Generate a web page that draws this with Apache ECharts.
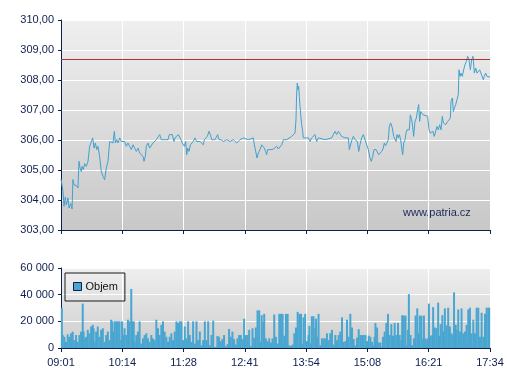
<!DOCTYPE html>
<html><head><meta charset="utf-8">
<script src="https://cdn.jsdelivr.net/npm/echarts@6/dist/echarts.min.js"></script>
<style>html,body{margin:0;padding:0;background:#fff}#c{width:507px;height:380px}</style>
</head><body><div id="c"></div><script>
const timeLabels = ['09:01','10:14','11:28','12:41','13:54','15:08','16:21','17:34'];
const sessionMinutes = 513;
const refLevel = 308.7;
const watermark = 'www.patria.cz';
const legendName = 'Objem';

// [minutes since 09:01, price]
const price = [
[0,304.70],[2.4,304.29],[3.6,303.79],[5.2,304.10],[6.4,303.84],[8.4,304.07],[9.6,303.73],[11.6,303.88],[13.2,303.70],[14.3,304.68],[15.5,304.51],[18.3,304.48],[20.3,304.40],[21.5,305.29],[22.7,305.07],[24.3,304.95],[25.1,305.12],[26.7,305.01],[28.3,305.21],[30.3,305.12],[32.3,305.29],[34.3,305.79],[36.3,305.79],[37.9,306.07],[39.5,305.73],[41.1,305.90],[42.7,305.68],[44.2,305.79],[46.2,305.45],[48.2,304.95],[50.2,304.79],[52.2,304.68],[54.2,305.07],[56.2,305.29],[58.2,305.95],[60.2,306.01],[62.2,305.90],[63.8,306.29],[65.0,305.90],[66.6,306.01],[68.2,305.90],[70.2,306.07],[72.1,305.95],[74.1,305.90],[76.1,305.95],[78.1,305.79],[80.1,305.90],[82.1,305.79],[84.1,305.68],[86.1,305.84],[88.1,305.90],[90.1,305.62],[92.1,305.73],[94.1,305.57],[96.1,305.62],[98.1,305.45],[99.3,305.29],[100.8,305.45],[102.0,305.79],[104.0,305.90],[106.0,305.73],[108.0,305.79],[110.0,305.90],[112.0,305.95],[114.0,306.01],[116.0,306.07],[118.0,306.18],[120.0,306.01],[122.0,305.95],[124.0,306.01],[126.0,305.95],[128.0,306.01],
[129.5,306.18],[131.5,306.12],[133.1,306.18],[135.1,305.95],[136.3,306.07],[138.3,306.01],[140.3,306.18],[142.3,306.18],[143.5,306.01],[145.1,305.90],[146.3,305.95],[147.5,305.79],[149.1,305.95],[150.3,305.51],[151.5,305.73],[153.1,305.62],[154.7,305.84],[156.2,305.90],[158.2,305.95],[160.2,306.07],[162.2,305.95],[164.2,306.01],[166.2,305.95],[168.2,306.01],[170.2,305.84],[171.4,306.01],[173.0,306.07],[175.0,306.12],[177.0,306.29],[178.6,306.18],[180.2,306.01],[184.1,306.01],[186.1,306.01],[187.3,306.18],[188.9,306.01],[191.3,306.01],[192.9,306.07],[194.5,305.95],[196.1,305.90],[198.1,306.01],[200.1,306.01],[202.1,305.95],[204.1,305.90],[206.1,306.01],[208.1,305.95],[210.1,305.90],[212.0,305.95],[214.0,306.01],[218.0,306.07],[220.0,306.01],[224.0,306.01],[226.0,306.07],[230.0,306.07],[231.2,305.84],[232.8,305.62],[234.4,305.40],[236.0,305.57],[238.0,305.68],[240.0,305.84],[242.0,305.90],[243.1,305.73],[244.7,305.62],[245.9,305.51],[247.1,305.68],[248.7,305.62],[251.1,305.68],[253.9,305.70],[255.9,305.68],
[257.9,305.79],[259.9,305.70],[261.9,305.70],[263.9,305.84],[265.9,306.01],[267.9,306.07],[269.9,306.01],[271.8,306.07],[275.8,306.12],[279.8,306.23],[281.0,306.68],[281.8,307.57],[282.6,307.90],[283.4,307.68],[284.2,307.79],[285.0,307.45],[285.8,307.12],[286.6,306.84],[287.8,306.51],[289.0,306.29],[289.8,306.07],[291.0,306.01],[292.2,306.07],[293.8,306.01],[295.8,306.07],[297.8,305.95],[299.7,306.07],[301.7,306.01],[303.7,306.18],[305.7,305.95],[307.7,306.07],[309.7,306.01],[315.7,306.01],[317.7,306.07],[323.7,306.07],[325.7,306.12],[327.6,306.29],[329.6,306.18],[331.6,306.29],[333.6,306.23],[335.6,306.12],[337.6,306.12],[339.6,306.07],[341.6,306.01],[343.6,306.07],[344.8,305.68],[346.8,305.68],[348.0,306.01],[349.6,306.12],[351.6,306.01],[352.8,306.07],[354.4,305.95],[356.0,305.62],[357.5,305.84],[359.5,306.07],[361.5,306.18],[363.5,306.01],[365.5,305.95],[367.5,305.68],[369.5,305.40],[371.1,305.29],[372.7,305.45],[374.3,305.68],[376.7,305.68],[378.3,305.62],[379.9,305.51],[381.5,305.57],
[383.5,305.62],[385.4,305.73],[386.6,305.90],[388.2,305.81],[390.2,305.79],[391.4,306.01],[392.6,306.45],[394.2,306.57],[396.2,306.40],[397.8,306.12],[399.4,306.18],[400.6,305.95],[401.8,306.18],[403.4,306.07],[404.6,306.18],[406.2,306.01],[407.4,305.73],[408.6,305.51],[409.8,305.90],[411.4,306.01],[412.6,306.23],[413.7,306.34],[415.3,306.40],[416.5,306.34],[417.7,306.84],[419.3,306.68],[420.5,306.45],[421.7,306.12],[423.3,306.62],[424.9,306.73],[426.5,307.01],[427.7,307.18],[428.9,306.62],[430.1,306.95],[431.3,306.95],[432.9,306.84],[434.5,306.79],[438.5,306.79],[440.1,306.34],[441.6,306.23],[443.2,306.23],[444.8,306.29],[446.4,306.12],[448.0,306.12],[449.6,306.45],[451.2,306.34],[452.8,306.51],[454.4,306.34],[456.0,306.79],[457.2,306.57],[458.4,306.51],[460.0,306.51],[462.4,306.62],[464.0,306.68],[465.6,306.73],[466.4,307.29],[468.0,307.40],[469.2,306.95],[470.4,307.07],[472.0,307.18],[473.5,307.34],[475.1,307.51],[475.9,308.34],[477.1,308.12],[478.3,308.23],[479.9,308.12],[481.5,308.34],[483.1,308.51],[484.7,308.62],[486.3,308.79],[487.9,308.68],[489.5,308.34],[491.1,308.68],[492.7,308.79],[494.3,308.23],[495.9,308.40],[497.5,308.23],[499.0,308.29],[500.6,308.34],[502.2,308.23],[503.8,308.29],[505.0,308.01],[506.2,308.12],[507.8,308.23],[509.4,308.12],[511.0,308.10],[513.0,308.10]
];

// [minutes since 09:01, volume]
const volume = [
[1,30200],[2,9700],[4,8400],[6,4600],[8,10200],[10,8400],[12,11000],[14,12300],[16,5900],[18,9700],[20,4600],[22,9700],[24,12300],[26,33300],[27,12300],[28,7200],[30,8400],[32,13600],[34,11000],[36,16100],[38,17400],[39,14800],[40,4600],[42,12300],[44,16100],[46,8400],[48,13600],[50,14800],[52,4600],[54,9700],[56,12300],[58,5900],[60,21200],[61,20000],[63,12300],[64,20000],[66,20000],[68,20000],[70,20000],[72,5900],[73,20000],[75,9700],[76,14800],[78,9700],[80,21200],[81,14800],[82,20000],[84,44300],[85,20000],[87,20000],[88,4600],[90,9700],[92,12300],[94,20000],[96,3300],[98,7200],[100,9700],[102,11000],[104,7200],[106,4600],[108,9700],[110,7200],[112,5900],[114,21200],[116,14800],[118,9700],[120,17400],[122,20000],[124,12300],[126,8400],[128,4600],[130,8400],[132,11000],[134,5900],[136,12300],[138,20000],[140,18700],[142,20000],[144,20000],[146,5900],[148,16100],[150,7200],[152,20000],[154,9700],[156,4600],[158,20000],[160,3300],[162,20000],[164,5900],[166,12300],[168,2000],
[170,5900],[172,20000],[174,5900],[176,20000],[178,2000],[180,9700],[182,20500],[184,800],[186,800],[187,9000],[189,8400],[191,5100],[193,6700],[195,9700],[197,1300],[199,2800],[201,14300],[203,8400],[205,12300],[207,6700],[209,2600],[211,7200],[213,9700],[215,9700],[217,6700],[219,22000],[221,9700],[223,9700],[225,13600],[227,1300],[229,14800],[231,7700],[233,15400],[235,28200],[237,28200],[239,4600],[240,24600],[242,19500],[243,25600],[245,7200],[247,5100],[249,7200],[251,4100],[253,7200],[255,25100],[257,8400],[259,3300],[261,25600],[263,25600],[265,25600],[267,9200],[269,25600],[271,25600],[273,2000],[275,1500],[277,2600],[279,11000],[281,15400],[283,27100],[285,25600],[287,25600],[288,3300],[290,23000],[292,25600],[294,5100],[296,9700],[297,16600],[299,3300],[300,23800],[302,23800],[304,14800],[305,22000],[306,8400],[308,25600],[310,2000],[312,7200],[314,7200],[316,7200],[318,11000],[320,5900],[322,11000],[324,13600],[326,2600],[328,9700],[330,5900],[332,9700],[334,12300],[336,23000],[338,4600],[340,5100],
[342,21200],[344,8400],[346,25600],[348,15400],[350,6700],[352,2000],[354,7700],[356,14100],[358,9700],[360,9700],[362,9700],[364,9700],[366,5100],[368,9200],[370,8400],[372,4600],[374,2000],[375,8400],[376,18700],[378,15400],[380,4100],[382,4100],[383,800],[385,8400],[387,12300],[389,18700],[391,25600],[393,9700],[395,17900],[397,9200],[399,18700],[401,9700],[403,18700],[405,9700],[407,5900],[408,24600],[410,24300],[412,24300],[414,2000],[415,13600],[416,40400],[418,9700],[419,2000],[421,2000],[422,7200],[424,24300],[426,29700],[427,11000],[429,24300],[431,24300],[433,7200],[434,24300],[436,7200],[438,5900],[439,7200],[440,33300],[442,9200],[444,9700],[445,30700],[447,15400],[449,14800],[451,34000],[453,9200],[454,17900],[456,24600],[458,12300],[459,29700],[461,16900],[463,30200],[465,16100],[467,11000],[469,9700],[470,41700],[472,17400],[473,13600],[475,28900],[477,12300],[479,29700],[481,11000],[483,12300],[485,17400],[487,28900],[489,30200],[491,11000],[493,21200],[495,11000],[497,30200],[499,30200],[501,8400],[503,26400],[505,8400],[507,25600],[509,30200],[511,30200],[512,30200]
];

const navy = '#0c1f4d';
const txt = '#0f1f4f';
const font = "'Liberation Sans', Arial, sans-serif";
const step = sessionMinutes / 7;
const bg = {type:'linear', x:0, y:0, x2:0, y2:1, colorStops:[{offset:0,color:'#efefef'},{offset:1,color:'#c8c8c8'}]};
const bg2 = {type:'linear', x:0, y:0, x2:0, y2:1, colorStops:[{offset:0,color:'#efefef'},{offset:1,color:'#cdcdcd'}]};

function xAxis(idx, showLabel) {
  return {
    type:'value', gridIndex:idx, min:0, max:sessionMinutes, interval:step,
    axisLine:{show:true, onZero:false, lineStyle:{color:navy, width:1}},
    axisTick:{show:true, length:4, lineStyle:{color:navy}},
    splitLine:{show:true, lineStyle:{color:'#ffffff', width:1}},
    axisLabel:{show:showLabel, margin:9, color:txt, fontFamily:font, fontSize:11,
      formatter: v => timeLabels[Math.round(v/step)] || ''},
  };
}

const chart = echarts.init(document.getElementById('c'), null, {renderer:'canvas'});
chart.setOption({
  backgroundColor:'#ffffff',
  animation:false,
  textStyle:{fontFamily:font},
  grid:[
    {left:61, right:17, top:20, height:210, show:true, backgroundColor:bg, borderWidth:0},
    {left:61, right:17, top:268, height:80, show:true, backgroundColor:bg2, borderWidth:0}
  ],
  xAxis:[xAxis(0,false), xAxis(1,true)],
  yAxis:[
    {type:'value', gridIndex:0, min:303, max:310, interval:1,
     axisLine:{show:true, lineStyle:{color:navy}},
     axisTick:{show:true, length:3, lineStyle:{color:navy}},
     splitLine:{show:true, lineStyle:{color:'#ffffff', width:1}},
     axisLabel:{margin:7, color:txt, fontFamily:font, fontSize:11,
       formatter: v => v.toFixed(2).replace('.', ',')}},
    {type:'value', gridIndex:1, min:0, max:60000, interval:20000,
     axisLine:{show:true, lineStyle:{color:navy}},
     axisTick:{show:true, length:3, lineStyle:{color:navy}},
     splitLine:{show:true, lineStyle:{color:'#ffffff', width:1}},
     axisLabel:{margin:7, color:txt, fontFamily:font, fontSize:11,
       formatter: v => String(v).replace(/\B(?=(\d{3})+(?!\d))/g, ' ')}}
  ],
  legend:{
    data:[legendName], left:65, top:273, orient:'vertical',
    padding:[8,7,9,8], itemWidth:8, itemHeight:8, itemGap:5, borderRadius:0,
    borderColor:'#1a1a1a', borderWidth:1, backgroundColor:'transparent',
    icon:'rect',
    itemStyle:{borderColor:'#0c1f4d', borderWidth:1},
    textStyle:{color:'#111', fontFamily:font, fontSize:11, padding:[0,0,0,-1]}
  },
  graphic:[
    {type:'text', left:403, top:207, style:{text:watermark, fill:'#1a2a5c', font:"11px 'Liberation Sans', Arial"}}
  ],
  series:[
    {name:'Kurz', type:'line', xAxisIndex:0, yAxisIndex:0, data:price, showSymbol:false, symbol:'none',
     lineStyle:{color:'#43a0cd', width:1}, itemStyle:{color:'#43a0cd'},
     markLine:{silent:true, symbol:'none', label:{show:false},
       lineStyle:{color:'#b03232', width:1, type:'solid'}, data:[{yAxis:refLevel}]}},
    {name:legendName, type:'bar', xAxisIndex:1, yAxisIndex:1, data:volume, barWidth:2,
     itemStyle:{color:'#48a6d1'}}
  ]
});
</script></body></html>
